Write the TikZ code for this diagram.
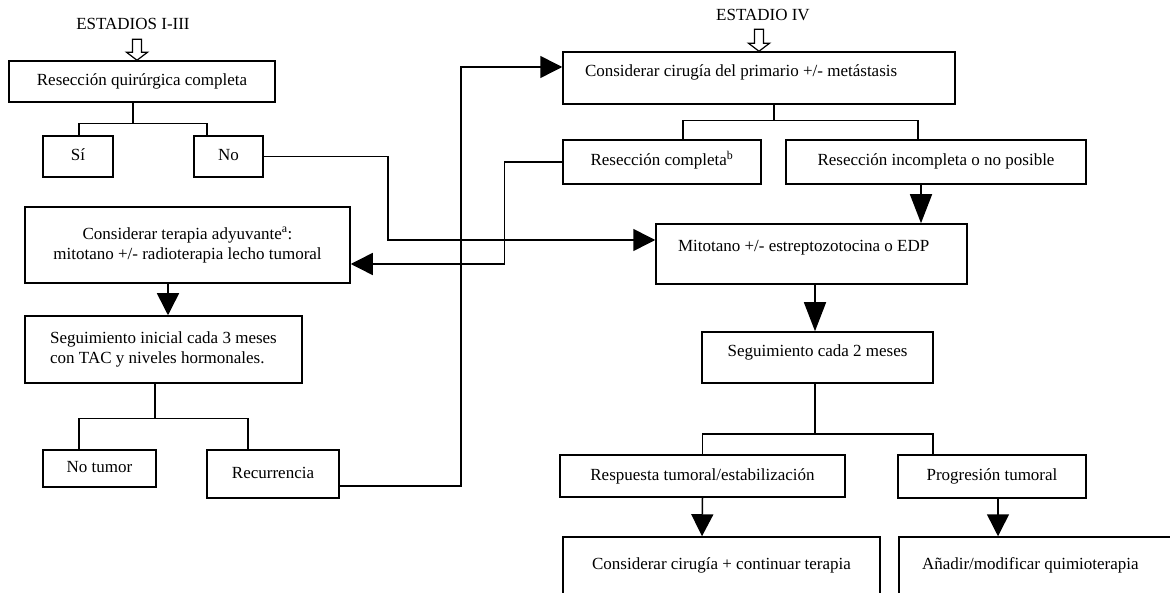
\documentclass[tikz,border=0pt]{standalone}
\usepackage{fontspec}
\setmainfont{Liberation Serif}
\usepackage{tikz}
\usetikzlibrary{arrows.meta}
\tikzset{
  acbox/.style={draw, line width=1.5pt, inner sep=0pt, align=center},
  oneline/.style={text height=12pt, text depth=4pt},
  acline/.style={line width=1.5pt},
  acarr/.style={-{Triangle[length=22pt,width=22pt]}, line width=1.5pt},
  acarrlong/.style={-{Triangle[length=29pt,width=22pt]}, line width=1.5pt},
  achollow/.style={draw, line width=1.2pt, fill=white}
}

\begin{document}
\begin{tikzpicture}[x=1pt, y=-1pt, font=\fontsize{17}{20}\selectfont]
  \useasboundingbox (0,0) rectangle (1170,593);
  \clip (0,0) rectangle (1170,593);
  \node (stA) at (133,24) {ESTADIOS I-III};
  \node[acbox, oneline, minimum width=266pt, minimum height=41pt] (resq) at (142,81.5) {Resección quirúrgica completa};
  \node[acbox, oneline, minimum width=70pt, minimum height=41pt] (si) at (78,156.5) {Sí};
  \node[acbox, oneline, minimum width=69pt, minimum height=41pt] (no) at (228.5,156.5) {No};
  \node[acbox, minimum width=325pt, minimum height=76pt] (terapia) at (187.5,245) {Considerar terapia adyuvante\textsuperscript{a}:\\mitotano +/- radioterapia lecho tumoral};
  \node[acbox, align=left, minimum width=277pt, minimum height=67pt] (seguiA) at (163.5,349.5) {Seguimiento inicial cada 3 meses\\con TAC y niveles hormonales.};
  \node[acbox, oneline, minimum width=113pt, minimum height=37pt] (notum) at (99.5,468.5) {No tumor};
  \node[acbox, oneline, minimum width=132pt, minimum height=48pt] (recur) at (273,474) {Recurrencia};

  \node (stB) at (763,15) {ESTADIO IV};
  \node[acbox, oneline, text depth=14pt, minimum width=392pt, minimum height=52pt] (cirug) at (759,78) {\makebox[348pt][l]{Considerar cirugía del primario +/- metástasis}};
  \node[acbox, oneline, minimum width=198pt, minimum height=44pt] (rcomp) at (662,162) {Resección completa\textsuperscript{b}};
  \node[acbox, oneline, minimum width=300pt, minimum height=44pt] (rinc) at (936,162) {Resección incompleta o no posible};
  \node[acbox, oneline, text depth=16pt, minimum width=311pt, minimum height=60pt] (mito) at (811.5,254) {\makebox[267pt][l]{Mitotano +/- estreptozotocina o EDP}};
  \node[acbox, oneline, text depth=13pt, minimum width=231pt, minimum height=51pt] (seg2) at (817.5,357.5) {Seguimiento cada 2 meses};
  \node[acbox, oneline, minimum width=285pt, minimum height=42pt] (resp) at (702.5,476) {Respuesta tumoral/estabilización};
  \node[acbox, oneline, minimum width=188pt, minimum height=43pt] (prog) at (992,476.5) {Progresión tumoral};
  \node[acbox, oneline, text depth=12pt, minimum width=317pt, minimum height=64pt] (cont) at (721.5,569) {Considerar cirugía + continuar terapia};
  \node[acbox, oneline, text depth=12pt, minimum width=286pt, minimum height=64pt] (anad) at (1042,569) {\makebox[240pt][l]{Añadir/modificar quimioterapia}};

  \draw[achollow] ([xshift=-5pt]resq.north) -- ++(-10.5,-8) -- ++(6,0) -- ++(0,-13) -- ++(9,0) -- ++(0,13) -- ++(6,0) -- cycle;
  \draw[acline] ([xshift=-9pt]resq.south) -- ++(0,21) coordinate (j1);
  \draw[acline] (j1) -| ([xshift=1pt]si.north);
  \draw[acline] (j1) -| ([xshift=-21.5pt]no.north);
  \draw[acarr] (no.east) -- ++(124,0) |- ([yshift=14pt]mito.west);
  \draw[acarr] (rcomp.west) -- ++(-58,0) |- ([yshift=-19pt]terapia.east);
  \draw[acarr] ([xshift=-19.5pt]terapia.south) -- ([xshift=4.5pt]seguiA.north);
  \draw[acline] ([xshift=-8.5pt]seguiA.south) -- ++(0,35) coordinate (j2);
  \draw[acline] (j2) -| ([xshift=-20.5pt]notum.north);
  \draw[acline] (j2) -| ([xshift=-25pt]recur.north);
  \draw[acarr] ([yshift=-12pt]recur.east) -- ++(121,0) |- ([yshift=11pt]cirug.west);

  \draw[achollow] (cirug.north) -- ++(-10.5,-8) -- ++(6,0) -- ++(0,-14) -- ++(9,0) -- ++(0,14) -- ++(6,0) -- cycle;
  \draw[acline] ([xshift=15pt]cirug.south) -- ++(0,16) coordinate (j3);
  \draw[acline] (j3) -| ([xshift=21pt]rcomp.north);
  \draw[acline] (j3) -| ([xshift=-18pt]rinc.north);
  \draw[acarrlong] ([xshift=-15pt]rinc.south) -- ([xshift=109.5pt]mito.north);
  \draw[acarrlong] ([xshift=3.5pt]mito.south) -- ([xshift=-2.5pt]seg2.north);
  \draw[acline] ([xshift=-2.5pt]seg2.south) -- ++(0,50) coordinate (j4);
  \draw[acline] (j4) -| (resp.north);
  \draw[acline] (j4) -| ([xshift=-59pt]prog.north);
  \draw[acarr] (resp.south) -- ([xshift=-19.5pt]cont.north);
  \draw[acarr] ([xshift=6pt]prog.south) -- ([xshift=-44pt]anad.north);
\end{tikzpicture}
\end{document}
